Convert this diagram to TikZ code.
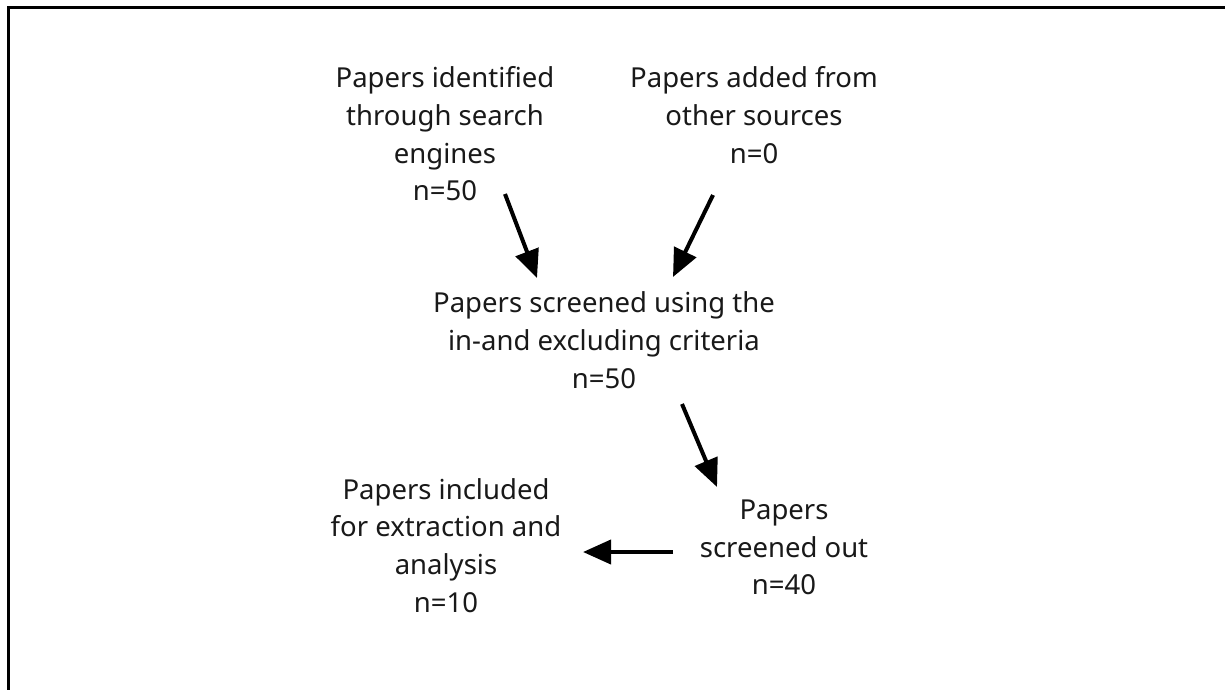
\documentclass[tikz,border=0pt]{standalone}
\usepackage{fontspec}
\setmainfont{Noto Sans}
\usetikzlibrary{arrows.meta}
\begin{document}
\begin{tikzpicture}[x=1pt,y=-1pt,
  lbl/.style={align=center, inner sep=0pt, font=\fontsize{27.5}{37.7}\selectfont, text=black!90},
  arr/.style={line width=4pt, -{Triangle[length=28pt,width=24pt]}}]
\useasboundingbox (0,0) rectangle (1225,689);
\fill[white] (0,0) rectangle (1225,689);
\draw[line width=3pt] (8,700) -- (8,7.5) -- (1240,7.5);

\node[lbl] (ident) at (445,134) {Papers identified\\through search\\engines\\n=50};
\node[lbl] (added) at (754,115) {Papers added from\\other sources\\n=0};
\node[lbl] (screen) at (604,340) {Papers screened using the\\in-and excluding criteria\\n=50};
\node[lbl] (incl) at (446,545.5) {Papers included\\for extraction and\\analysis\\n=10};
\node[lbl] (out) at (784,547.5) {Papers\\screened out\\n=40};

\coordinate (a1s) at (505,194);
\coordinate (a1e) at (537,278);
\coordinate (a2s) at (713,195);
\coordinate (a2e) at (673,277);
\coordinate (a3s) at (682,404);
\coordinate (a3e) at (717,487);
\coordinate (a4s) at (673,552);
\coordinate (a4e) at (583,552);

\draw[arr] (a1s) -- (a1e);
\draw[arr] (a2s) -- (a2e);
\draw[arr] (a3s) -- (a3e);
\draw[arr] (a4s) -- (a4e);
\end{tikzpicture}
\end{document}
